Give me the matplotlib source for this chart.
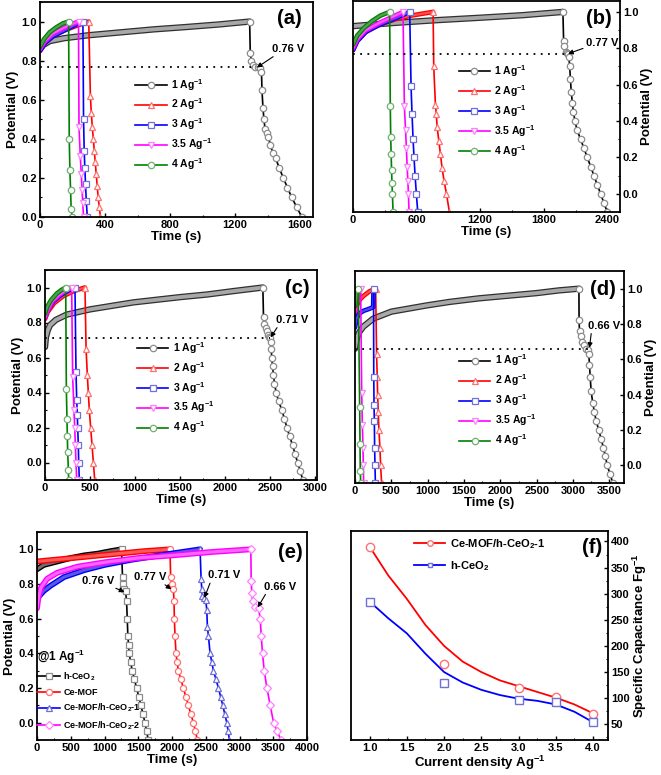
import numpy as np
import matplotlib
matplotlib.use('Agg')
import matplotlib.pyplot as plt
from matplotlib.lines import Line2D
from matplotlib.ticker import MultipleLocator, AutoMinorLocator

# fonts: bold arial-like everywhere, mathtext too
plt.rcParams['font.family'] = 'Liberation Sans'
plt.rcParams['font.weight'] = 'bold'
plt.rcParams['axes.labelweight'] = 'bold'
plt.rcParams['mathtext.fontset'] = 'custom'
plt.rcParams['mathtext.rm'] = 'Liberation Sans:bold'
plt.rcParams['mathtext.bf'] = 'Liberation Sans:bold'
plt.rcParams['mathtext.it'] = 'Liberation Sans:bold'
plt.rcParams['mathtext.default'] = 'bf'
plt.rcParams['axes.linewidth'] = 1.3

# ---------------- data ----------------
rates = ['1 Ag$^{-1}$', '2 Ag$^{-1}$', '3 Ag$^{-1}$', '3.5 Ag$^{-1}$', '4 Ag$^{-1}$']

# (a) h-CeO2
a_t1 = [0, 20, 60, 150, 300, 500, 700, 900, 1100, 1290, 1294, 1300, 1310, 1325, 1342, 1355, 1363, 1366, 1372, 1378, 1385, 1395, 1404, 1418, 1432, 1450, 1473, 1497, 1523, 1549, 1580, 1611]
a_v1 = [0.86, 0.88, 0.90, 0.915, 0.93, 0.945, 0.96, 0.972, 0.985, 1.0, 0.84, 0.80, 0.78, 0.77, 0.765, 0.76, 0.74, 0.65, 0.56, 0.50, 0.45, 0.43, 0.41, 0.37, 0.33, 0.30, 0.25, 0.20, 0.15, 0.10, 0.05, 0.0]
a_t2 = [0, 30, 80, 150, 230, 300, 310, 316, 322, 328, 334, 340, 346, 352, 358, 365, 372]
a_v2 = [0.85, 0.89, 0.925, 0.955, 0.98, 1.0, 0.62, 0.53, 0.46, 0.40, 0.34, 0.28, 0.22, 0.16, 0.10, 0.05, 0.0]
a_t3 = [0, 30, 80, 150, 210, 264, 268, 272, 276, 280, 285, 291]
a_v3 = [0.85, 0.89, 0.925, 0.955, 0.98, 1.0, 0.50, 0.34, 0.25, 0.17, 0.08, 0.0]
a_t35 = [0, 30, 80, 140, 190, 237, 240, 248, 254, 259, 263, 268]
a_v35 = [0.86, 0.90, 0.94, 0.965, 0.985, 1.0, 0.46, 0.31, 0.22, 0.14, 0.07, 0.0]
a_t4 = [0, 25, 60, 100, 140, 176, 180, 184, 188, 192, 198]
a_v4 = [0.87, 0.91, 0.945, 0.97, 0.99, 1.0, 0.40, 0.24, 0.14, 0.04, 0.0]

# (b) Ce-MOF
b_t1 = [0, 400, 800, 1200, 1600, 1981, 1988, 1995, 2008, 2022, 2030, 2038, 2045, 2052, 2060, 2070, 2080, 2095, 2115, 2148, 2180, 2211, 2243, 2274, 2305, 2337, 2368, 2400]
b_v1 = [0.922, 0.94, 0.955, 0.968, 0.982, 1.0, 0.84, 0.81, 0.78, 0.775, 0.77, 0.75, 0.70, 0.63, 0.56, 0.50, 0.45, 0.40, 0.35, 0.30, 0.25, 0.20, 0.15, 0.10, 0.05, 0.0, -0.05, -0.1]
b_t2 = [0, 40, 120, 250, 400, 550, 756, 762, 778, 786, 794, 810, 825, 841, 860, 882, 910]
b_v2 = [0.79, 0.84, 0.89, 0.93, 0.96, 0.98, 1.0, 0.70, 0.49, 0.44, 0.37, 0.29, 0.22, 0.14, 0.07, 0.0, -0.1]
b_t3 = [0, 40, 120, 250, 400, 535, 548, 557, 567, 576, 586, 598, 611]
b_v3 = [0.79, 0.84, 0.89, 0.93, 0.965, 1.0, 0.59, 0.44, 0.30, 0.20, 0.10, 0.0, -0.1]
b_t35 = [0, 40, 120, 250, 380, 472, 485, 496, 504, 511, 518, 523, 529]
b_v35 = [0.80, 0.85, 0.90, 0.94, 0.975, 1.0, 0.48, 0.35, 0.25, 0.15, 0.07, 0.0, -0.1]
b_t4 = [0, 40, 100, 180, 260, 346, 352, 356, 360, 364, 368, 372, 378]
b_v4 = [0.82, 0.87, 0.91, 0.95, 0.98, 1.0, 0.48, 0.31, 0.22, 0.13, 0.06, 0.0, -0.1]

# (c) Ce-MOF/h-CeO2-1
c_t1 = [0, 10, 30, 56, 120, 241, 500, 981, 1500, 1800, 2100, 2419, 2426, 2437, 2452, 2463, 2474, 2485, 2500, 2507, 2511, 2518, 2526, 2537, 2548, 2567, 2593, 2630, 2658, 2685, 2716, 2748, 2776, 2804, 2834, 2863]
c_v1 = [0.66, 0.715, 0.755, 0.785, 0.815, 0.845, 0.875, 0.915, 0.945, 0.96, 0.98, 1.0, 0.83, 0.79, 0.77, 0.75, 0.73, 0.72, 0.71, 0.69, 0.65, 0.60, 0.55, 0.50, 0.45, 0.40, 0.35, 0.30, 0.25, 0.20, 0.15, 0.10, 0.05, 0.0, -0.05, -0.1]
c_t2 = [0, 30, 100, 200, 320, 444, 456, 470, 481, 492, 507, 522, 537, 552]
c_v2 = [0.82, 0.86, 0.91, 0.95, 0.98, 1.0, 0.65, 0.50, 0.40, 0.30, 0.20, 0.10, 0.0, -0.1]
c_t3 = [0, 30, 90, 170, 250, 333, 344, 352, 359, 363, 370, 374, 381]
c_v3 = [0.83, 0.87, 0.92, 0.955, 0.98, 1.0, 0.52, 0.36, 0.27, 0.20, 0.10, 0.0, -0.1]
c_t35 = [0, 30, 80, 150, 220, 296, 307, 322, 330, 337, 344, 352]
c_v35 = [0.83, 0.87, 0.92, 0.955, 0.98, 1.0, 0.49, 0.30, 0.20, 0.10, 0.0, -0.1]
c_t4 = [0, 25, 70, 130, 180, 230, 237, 244, 248, 252, 259, 263]
c_v4 = [0.85, 0.89, 0.93, 0.965, 0.985, 1.0, 0.42, 0.25, 0.15, 0.06, -0.04, -0.1]

# (d) Ce-MOF/h-CeO2-2
d_t1 = [0, 10, 30, 60, 114, 250, 500, 984, 1300, 1700, 2100, 2500, 2800, 3080, 3082, 3088, 3102, 3120, 3143, 3180, 3203, 3216, 3225, 3235, 3248, 3271, 3294, 3317, 3353, 3385, 3417, 3445, 3468, 3509, 3546]
d_v1 = [0.66, 0.69, 0.725, 0.755, 0.785, 0.83, 0.87, 0.905, 0.925, 0.945, 0.96, 0.975, 0.99, 1.0, 0.82, 0.76, 0.73, 0.70, 0.68, 0.66, 0.65, 0.63, 0.57, 0.50, 0.42, 0.35, 0.30, 0.25, 0.20, 0.15, 0.10, 0.05, 0.0, -0.05, -0.1]
d_t2 = [0, 20, 60, 120, 200, 284, 297, 306, 311, 320, 329, 343, 352, 366]
d_v2 = [0.86, 0.90, 0.935, 0.96, 0.985, 1.0, 0.63, 0.50, 0.40, 0.30, 0.20, 0.10, 0.0, -0.1]
d_t3 = [0, 20, 60, 120, 190, 250, 255, 258, 262, 266, 270, 275, 280]
d_v3 = [0.78, 0.83, 0.86, 0.875, 0.885, 0.895, 1.0, 0.50, 0.34, 0.25, 0.10, 0.0, -0.1]
d_t35 = [0, 20, 45, 78, 92, 101, 110, 114, 119]
d_v35 = [0.87, 0.92, 0.96, 1.0, 0.41, 0.23, 0.10, 0.0, -0.1]
d_t4 = [0, 15, 30, 46, 64, 69, 73, 78]
d_v4 = [0.90, 0.94, 0.97, 1.0, 0.33, 0.12, -0.03, -0.1]

# (e) all samples @ 1 A/g
samples = ['h-CeO$_2$', 'Ce-MOF', 'Ce-MOF/h-CeO$_2$-1', 'Ce-MOF/h-CeO$_2$-2']
e_t1 = [0, 100, 300, 500, 700, 900, 1100, 1252, 1267, 1277, 1292, 1312, 1327, 1337, 1346, 1356, 1366, 1386, 1411, 1443, 1475, 1508, 1540, 1570, 1599, 1624, 1648]
e_v1 = [0.885, 0.91, 0.93, 0.95, 0.965, 0.975, 0.99, 1.0, 0.84, 0.80, 0.77, 0.76, 0.70, 0.60, 0.50, 0.45, 0.40, 0.35, 0.30, 0.25, 0.20, 0.15, 0.10, 0.05, 0.0, -0.05, -0.1]
e_t2 = [0, 400, 800, 1200, 1600, 1970, 1980, 1995, 2020, 2030, 2035, 2045, 2059, 2076, 2094, 2131, 2168, 2205, 2242, 2280, 2317, 2347, 2376]
e_v2 = [0.93, 0.945, 0.96, 0.975, 0.99, 1.0, 0.84, 0.80, 0.77, 0.70, 0.60, 0.50, 0.40, 0.35, 0.30, 0.25, 0.20, 0.15, 0.10, 0.05, 0.0, -0.05, -0.1]
e_t3 = [0, 30, 100, 200, 400, 700, 1000, 1400, 1900, 2416, 2431, 2441, 2451, 2475, 2500, 2515, 2525, 2540, 2564, 2589, 2614, 2651, 2688, 2720, 2752, 2782, 2812, 2832, 2851]
e_v3 = [0.71, 0.73, 0.76, 0.79, 0.84, 0.88, 0.91, 0.94, 0.97, 1.0, 0.83, 0.77, 0.73, 0.72, 0.71, 0.65, 0.55, 0.50, 0.40, 0.35, 0.30, 0.25, 0.20, 0.15, 0.10, 0.05, 0.0, -0.05, -0.1]
e_t4 = [0, 20, 60, 150, 300, 600, 1000, 1500, 2000, 2600, 3168, 3173, 3183, 3193, 3232, 3282, 3307, 3322, 3341, 3366, 3406, 3455, 3505, 3560, 3613]
e_v4 = [0.66, 0.72, 0.78, 0.83, 0.865, 0.90, 0.925, 0.95, 0.965, 0.985, 1.0, 0.82, 0.75, 0.70, 0.67, 0.66, 0.60, 0.50, 0.40, 0.30, 0.20, 0.10, 0.0, -0.05, -0.1]

# IR-drop plateaus: (voltage, time where dotted line stops)
a_drop, a_drop_t = 0.765, 1335
b_drop, b_drop_t = 0.77, 2030
c_drop, c_drop_t = 0.71, 2500
d_drop, d_drop_t = 0.66, 3200

# (f) specific capacitance
f_density = [1.0, 2.0, 3.0, 3.5, 4.0]
f_mof_pts = [390, 166, 120, 102, 70]
f_ceo2_pts = [285, 130, 96, 93, 54]
f_fit_x = [1.0, 1.25, 1.5, 1.75, 2.0, 2.25, 2.5, 2.75, 3.0, 3.25, 3.5, 3.75, 4.0]
f_mof_fit = [390, 335, 290, 240, 200, 170, 150, 134, 123, 112, 101, 88, 71]
f_ceo2_fit = [285, 253, 224, 185, 150, 130, 116, 106, 99, 95, 88, 74, 54]

# ---------------- styles ----------------
rate_col = ['black', 'red', 'blue', 'magenta', 'green']
rate_light = ['#8c8c8c', '#ff7070', '#7070d8', '#ff80ff', '#70b070']
rate_mark = ['o', '^', 's', 'v', 'o']
samp_col = ['black', 'red', 'blue', 'magenta']
samp_light = ['#8c8c8c', '#ff7070', '#7070d8', '#ff80ff']
samp_mark = ['s', 'o', '^', 'D']

W, H = 661, 775
fig = plt.figure(figsize=(W / 100, H / 100), dpi=100)


def box(l, t, r, b):
    # axes from pixel edges
    return fig.add_axes([l / W, 1 - b / H, (r - l) / W, (b - t) / H])


def gcd(ax, t, v, col, light, mk, lab, first):
    t = np.asarray(t)
    v = np.asarray(v)
    k = int(np.argmax(v))
    # charge branch drawn as a thick band of overlapping markers
    if first:
        ax.plot(t[:k + 1], v[:k + 1], color='#303030', lw=4.6, solid_capstyle='round')
        ax.plot(t[:k + 1], v[:k + 1], color='#a8a8a8', lw=2.8, solid_capstyle='round')
    else:
        ax.plot(t[:k + 1], v[:k + 1], color=col, lw=3.4, solid_capstyle='round')
        ax.plot(t[:k + 1], v[:k + 1], color=light, lw=1.6, alpha=0.7, solid_capstyle='round')
    # discharge branch with open markers
    ln, = ax.plot(t[k:], v[k:], color=col, lw=1.2, marker=mk, ms=4.6, mfc='white',
                  mec=light, mew=0.9, label=lab)
    return ln


def style(ax, right=False):
    ax.tick_params(which='both', direction='in', labelsize=8, pad=2)
    ax.tick_params(which='major', length=3, width=1)
    ax.tick_params(which='minor', length=1.5, width=0.8)
    ax.xaxis.set_minor_locator(AutoMinorLocator(2))
    ax.yaxis.set_minor_locator(AutoMinorLocator(2))
    if right:
        ax.yaxis.tick_right()
        ax.yaxis.set_label_position('right')
    for lab in ax.get_xticklabels() + ax.get_yticklabels():
        lab.set_fontweight('bold')


def rate_panel(ax, series, drop, drop_t, xlim, ylim, xstep, right, tag, note, note_xy, arrow_xy, relpos, leg_c):
    lines = []
    for i, (t, v) in enumerate(series):
        lines.append(gcd(ax, t, v, rate_col[i], rate_light[i], rate_mark[i], rates[i], i == 0))
    ax.plot([0, drop_t], [drop, drop], color='k', lw=1.3, ls=(0, (1, 3)))
    ax.annotate(note, xy=arrow_xy, xytext=note_xy, ha='center', va='center', fontsize=8,
                fontweight='bold',
                arrowprops=dict(arrowstyle='-|>', color='k', lw=0.8, mutation_scale=7,
                                shrinkA=0, shrinkB=0, relpos=relpos))
    ax.set_xlim(xlim)
    ax.set_ylim(ylim)
    ax.xaxis.set_major_locator(MultipleLocator(xstep))
    ax.yaxis.set_major_locator(MultipleLocator(0.2))
    ax.set_xlabel('Time (s)', fontsize=9.5, labelpad=1)
    ax.set_ylabel('Potential (V)', fontsize=9.5, labelpad=2)
    ax.text(tag[1], tag[2], tag[0], transform=ax.transAxes, fontsize=14.5, fontweight='bold',
            ha='center', va='center')
    ax.legend(handles=lines, loc='center', bbox_to_anchor=leg_c, frameon=False, fontsize=7.5,
              handlelength=3.0, handletextpad=0.4, labelspacing=0.4)
    style(ax, right)


# (a)
ax_a = box(40, 2, 313, 217)
rate_panel(ax_a, [(a_t1, a_v1), (a_t2, a_v2), (a_t3, a_v3), (a_t35, a_v35), (a_t4, a_v4)],
           a_drop, a_drop_t, (0, 1680), (0, 1.1), 400, False, ('(a)', 0.915, 0.925),
           '0.76 V', (1530, 0.86), (1335, 0.765), (0.15, 0.0), (0.49, 0.43))

# (b)
ax_b = box(353, 1, 620, 212)
rate_panel(ax_b, [(b_t1, b_v1), (b_t2, b_v2), (b_t3, b_v3), (b_t35, b_v35), (b_t4, b_v4)],
           b_drop, b_drop_t, (0, 2520), (-0.1, 1.06), 600, True, ('(b)', 0.92, 0.915),
           '0.77 V', (2350, 0.83), (2030, 0.77), (0.05, 0.1), (0.54, 0.48))

# (c)
ax_c = box(45, 270, 317, 480)
rate_panel(ax_c, [(c_t1, c_v1), (c_t2, c_v2), (c_t3, c_v3), (c_t35, c_v35), (c_t4, c_v4)],
           c_drop, c_drop_t, (0, 3020), (-0.1, 1.1), 500, False, ('(c)', 0.926, 0.914),
           '0.71 V', (2740, 0.815), (2505, 0.715), (0.1, 0.0), (0.48, 0.44))

# (d)
ax_d = box(355, 271, 624, 483)
rate_panel(ax_d, [(d_t1, d_v1), (d_t2, d_v2), (d_t3, d_v3), (d_t35, d_v35), (d_t4, d_v4)],
           d_drop, d_drop_t, (0, 3700), (-0.1, 1.1), 500, True, ('(d)', 0.922, 0.915),
           '0.66 V', (3430, 0.79), (3225, 0.665), (0.1, 0.0), (0.53, 0.39))

# (e) comparison at 1 A/g
ax_e = box(37, 532, 307, 740)
e_lines = []
for i, (t, v) in enumerate([(e_t1, e_v1), (e_t2, e_v2), (e_t3, e_v3), (e_t4, e_v4)]):
    t = np.asarray(t)
    v = np.asarray(v)
    k = int(np.argmax(v))
    ax_e.plot(t[:k + 1], v[:k + 1], color=samp_col[i], lw=4.2, solid_capstyle='round')
    ax_e.plot(t[:k + 1], v[:k + 1], color=samp_light[i], lw=2.2, alpha=0.8, solid_capstyle='round')
    ln, = ax_e.plot(t[k:], v[k:], color=samp_col[i], lw=1.2, marker=samp_mark[i], ms=4.4,
                    mfc='white', mec=samp_light[i], mew=0.9, label=samples[i])
    e_lines.append(ln)

arrow_kw = dict(arrowstyle='-|>', color='k', lw=0.8, mutation_scale=7, shrinkA=0, shrinkB=0)
ax_e.annotate('0.76 V', xy=(1295, 0.755), xytext=(900, 0.82), ha='center', va='center',
              fontsize=8, fontweight='bold', arrowprops=dict(relpos=(0.85, 0.0), **arrow_kw))
ax_e.annotate('0.77 V', xy=(1990, 0.77), xytext=(1670, 0.84), ha='center', va='center',
              fontsize=8, fontweight='bold', arrowprops=dict(relpos=(0.85, 0.0), **arrow_kw))
ax_e.annotate('0.71 V', xy=(2480, 0.72), xytext=(2770, 0.85), ha='center', va='center',
              fontsize=8, fontweight='bold', arrowprops=dict(relpos=(0.1, 0.0), **arrow_kw))
ax_e.annotate('0.66 V', xy=(3270, 0.665), xytext=(3600, 0.785), ha='center', va='center',
              fontsize=8, fontweight='bold', arrowprops=dict(relpos=(0.1, 0.0), **arrow_kw))
ax_e.set_xlim(0, 4000)
ax_e.set_ylim(-0.1, 1.1)
ax_e.xaxis.set_major_locator(MultipleLocator(500))
ax_e.yaxis.set_major_locator(MultipleLocator(0.2))
ax_e.set_xlabel('Time (s)', fontsize=9.5, labelpad=1)
ax_e.set_ylabel('Potential (V)', fontsize=9.5, labelpad=2)
ax_e.text(0.937, 0.9, '(e)', transform=ax_e.transAxes, fontsize=14.5, fontweight='bold',
          ha='center', va='center')
leg_e = ax_e.legend(handles=e_lines, loc='lower left', bbox_to_anchor=(-0.03, 0.0), frameon=False,
                    fontsize=6.5, title='@1 Ag$^{-1}$', title_fontproperties={'size': 8.5, 'weight': 'bold'},
                    alignment='left', handlelength=2.6, handletextpad=0.3, labelspacing=0.55)
style(ax_e)

# (f) capacitance vs current density
ax_f = box(351, 531, 608, 740)
ax_f.plot(f_fit_x, f_mof_fit, color='red', lw=1.3)
ax_f.plot(f_fit_x, f_ceo2_fit, color='blue', lw=1.3)
ax_f.plot(f_density, f_mof_pts, ls='none', marker='o', ms=6, mfc='white', mec='#ff7070', mew=1)
ax_f.plot(f_density, f_ceo2_pts, ls='none', marker='s', ms=5.5, mfc='white', mec='#7070d8', mew=1)
f_handles = [Line2D([], [], color='red', lw=1.3, marker='o', ms=4, mfc='white', mec='#ff7070'),
             Line2D([], [], color='blue', lw=1.3, marker='s', ms=3.5, mfc='white', mec='#7070d8')]
ax_f.legend(f_handles, ['Ce-MOF/h-CeO$_2$-1', 'h-CeO$_2$'], loc='center', bbox_to_anchor=(0.5, 0.885),
            frameon=False, fontsize=8, handlelength=2.8, handletextpad=0.4, labelspacing=0.7)
ax_f.set_xlim(0.75, 4.2)
ax_f.set_ylim(20, 420)
ax_f.xaxis.set_major_locator(MultipleLocator(0.5))
ax_f.yaxis.set_major_locator(MultipleLocator(50))
ax_f.set_xlabel('Current density Ag$^{-1}$', fontsize=9.5, labelpad=1)
ax_f.set_ylabel('Specific Capacitance Fg$^{-1}$', fontsize=9.5, labelpad=1)
ax_f.text(0.94, 0.92, '(f)', transform=ax_f.transAxes, fontsize=14.5, fontweight='bold',
          ha='center', va='center')
style(ax_f, right=True)

fig.savefig('out.png', dpi=100)
